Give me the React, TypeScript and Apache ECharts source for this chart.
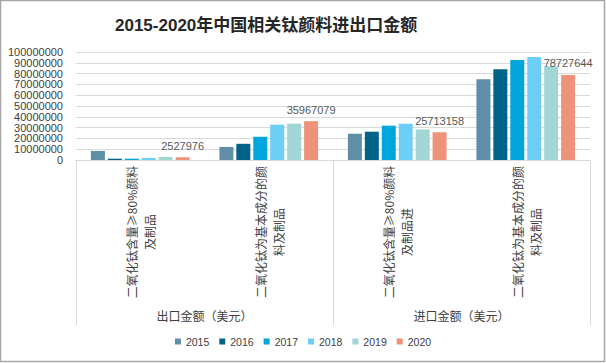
import React, { useEffect, useRef } from "react";
import * as echarts from "echarts";

const title = "2015-2020年中国相关钛颜料进出口金额";
const categories = ["出口-≥80%", "出口-基本成分", "进口-≥80%", "进口-基本成分"];
const categoryLine1 = [
  "二氧化钛含量≥80%颜料",
  "二氧化钛为基本成分的颜",
  "二氧化钛含量≥80%颜料",
  "二氧化钛为基本成分的颜",
];
const categoryLine2 = ["及制品", "料及制品", "及制品进", "料及制品"];
const groups = ["出口金额（美元）", "进口金额（美元）"];
const years = ["2015", "2016", "2017", "2018", "2019", "2020"];
const yTicks = [0, 10000000, 20000000, 30000000, 40000000, 50000000, 60000000, 70000000, 80000000, 90000000, 100000000];
const s2015 = [8400000, 12100000, 24300000, 74800000];
const s2016 = [1200000, 15000000, 26200000, 84100000];
const s2017 = [1200000, 21500000, 31800000, 92500000];
const s2018 = [1900000, 32700000, 33600000, 95300000];
const s2019 = [2800000, 33600000, 28300000, 86900000];
const s2020 = [2527976, 35967079, 25713158, 78727644];
const seriesValues = [s2015, s2016, s2017, s2018, s2019, s2020];
const colors = ["#5f8fa6", "#026389", "#00a6dc", "#6dcff6", "#a1d6d4", "#ef927a"];

const textColor = "#404040";
const cjk = "'Noto Sans CJK SC', 'Microsoft YaHei', sans-serif";
const num = "'Liberation Sans', Arial, sans-serif";

export default function App() {
  const ref = useRef<HTMLDivElement>(null);
  useEffect(() => {
    if (!ref.current) return;
    const chart = echarts.init(ref.current, null, { renderer: "svg" });
    const border = {
      id: "border",
      type: "rect",
      shape: { x: 0.5, y: 0.5, width: 604, height: 361 },
      style: { fill: "none", stroke: "#a6a6a6", lineWidth: 1.5 },
      silent: true,
    };
    chart.setOption({
      animation: false,
      backgroundColor: "#ffffff",
      title: {
        text: title,
        left: 110,
        top: 12,
        textStyle: {
          fontSize: 17,
          fontWeight: "bold",
          color: "#262626",
          fontFamily: "'Liberation Sans', 'Noto Sans CJK SC', sans-serif",
        },
      },
      legend: {
        data: years,
        bottom: 11,
        left: "center",
        itemWidth: 6,
        itemHeight: 6,
        itemGap: 10,
        icon: "rect",
        textStyle: { color: textColor, fontSize: 10.5, fontFamily: num },
      },
      grid: { left: 76, right: 16, top: 52, bottom: 203, containLabel: false },
      xAxis: [
        {
          type: "category",
          data: categories,
          position: "bottom",
          axisLine: { show: true, lineStyle: { color: "#d9d9d9" } },
          axisTick: { show: false },
          axisLabel: { show: false },
        },
        {
          type: "category",
          data: groups,
          position: "bottom",
          axisLine: { show: false },
          axisTick: { show: true, interval: 0, length: 165, lineStyle: { color: "#d9d9d9" } },
          axisLabel: {
            interval: 0,
            margin: 149,
            fontSize: 12,
            color: textColor,
            fontFamily: cjk,
          },
        },
      ],
      yAxis: {
        type: "value",
        min: 0,
        max: 100000000,
        interval: 10000000,
        axisLine: { show: false },
        axisTick: { show: false },
        splitLine: { lineStyle: { color: "#d9d9d9" } },
        axisLabel: { show: false },
      },
      graphic: [border],
      series: years.map((y, i) => ({
        name: y,
        type: "bar",
        xAxisIndex: 0,
        data: seriesValues[i],
        barWidth: 14,
        barGap: "21%",
        itemStyle: { color: colors[i] },
        label:
          i === years.length - 1
            ? {
                show: true,
                position: "top",
                distance: 6,
                fontSize: 11,
                color: "#595959",
                fontFamily: num,
              }
            : { show: false },
      })),
    });

    const elements: any[] = [border];
    yTicks.forEach((t, k) => {
      const py = chart.convertToPixel({ yAxisIndex: 0 }, t) as number;
      elements.push({
        id: "ylab" + k,
        type: "text",
        x: 63,
        y: py,
        silent: true,
        style: {
          text: String(t),
          align: "right",
          verticalAlign: "middle",
          fontSize: 11,
          fontFamily: num,
          fill: textColor,
        },
      });
    });
    const labelY = 232;
    categories.forEach((_, i) => {
      const cx = chart.convertToPixel({ xAxisIndex: 0 }, i) as number;
      [categoryLine1[i], categoryLine2[i]].forEach((line, j) => {
        elements.push({
          id: `cat${i}_${j}`,
          type: "text",
          x: cx + (j === 0 ? -8.5 : 9.5),
          y: labelY,
          rotation: Math.PI / 2,
          silent: true,
          style: {
            text: line,
            align: "center",
            verticalAlign: "middle",
            fontSize: 12,
            fontFamily: cjk,
            fill: textColor,
          },
        });
      });
    });
    chart.setOption({ graphic: elements });
    return () => chart.dispose();
  }, []);
  return (
    <div
      ref={ref}
      style={{ position: "fixed", left: 0, top: 0, width: 606, height: 363 }}
    />
  );
}
